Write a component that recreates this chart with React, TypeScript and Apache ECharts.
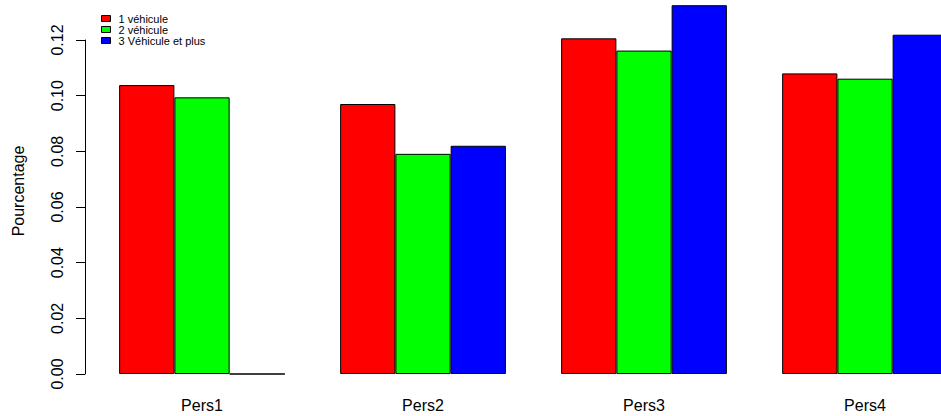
import React, { useEffect, useRef } from "react";
import * as echarts from "echarts";

const categories = ["Pers1", "Pers2", "Pers3", "Pers4"];
const seriesNames = ["1 véhicule", "2 véhicule", "3 Véhicule et plus"];
const oneVehicle = [0.1038, 0.097, 0.1206, 0.108];
const twoVehicles = [0.0994, 0.0791, 0.1162, 0.1061];
const threePlus = [0, 0.082, 0.1325, 0.1219];
const colors = ["#ff0000", "#00ff00", "#0000ff"];
const yTicks = [0, 0.02, 0.04, 0.06, 0.08, 0.1, 0.12];
const yTitle = "Pourcentage";

export default function App() {
  const ref = useRef<HTMLDivElement>(null);
  useEffect(() => {
    if (!ref.current) return;
    const chart = echarts.init(ref.current, null, { renderer: "svg" });
    const values = [oneVehicle, twoVehicles, threePlus];
    const font = "Liberation Sans, Arial, sans-serif";
    chart.setOption({
      animation: false,
      backgroundColor: "#ffffff",
      grid: {
        left: 91.5,
        right: -34.5,
        top: 40,
        bottom: 42,
        containLabel: false,
        outerBoundsMode: "none",
      },
      legend: {
        orient: "vertical",
        left: 96,
        top: 8,
        itemWidth: 9,
        itemHeight: 6,
        itemGap: 0,
        icon: "rect",
        data: seriesNames,
        itemStyle: { borderColor: "#000", borderWidth: 1 },
        textStyle: { fontSize: 11, color: "#000", fontFamily: font, padding: [0, 0, 0, 3] },
      },
      xAxis: {
        type: "category",
        data: categories,
        axisLine: { show: false },
        axisTick: { show: false },
        axisLabel: { fontSize: 16, color: "#000", fontFamily: font, margin: 23 },
      },
      yAxis: {
        type: "value",
        min: 0,
        max: 0.12,
        interval: 0.02,
        offset: 6.5,
        splitLine: { show: false },
        axisLine: { show: true, lineStyle: { color: "#000", width: 1 } },
        axisTick: { show: true, length: 9, lineStyle: { color: "#000" }, customValues: yTicks },
        axisLabel: {
          rotate: 90,
          fontSize: 16,
          color: "#000",
          fontFamily: font,
          margin: 20,
          customValues: yTicks,
          formatter: (v: number) => v.toFixed(2),
        },
      },
      graphic: [
        {
          type: "text",
          x: 18,
          y: 191,
          rotation: Math.PI / 2,
          style: {
            text: yTitle,
            fontSize: 16,
            fontFamily: font,
            fill: "#000",
            align: "center",
            verticalAlign: "middle",
          },
        },
      ],
      series: seriesNames.map((name, i) => ({
        name,
        type: "bar",
        data: values[i],
        clip: false,
        barGap: "0%",
        barCategoryGap: "25%",
        itemStyle: { color: colors[i], borderColor: "#000", borderWidth: 1 },
      })),
    });
    return () => chart.dispose();
  }, []);
  return <div ref={ref} style={{ width: 941, height: 416, position: "absolute", left: 0, top: 0 }} />;
}
